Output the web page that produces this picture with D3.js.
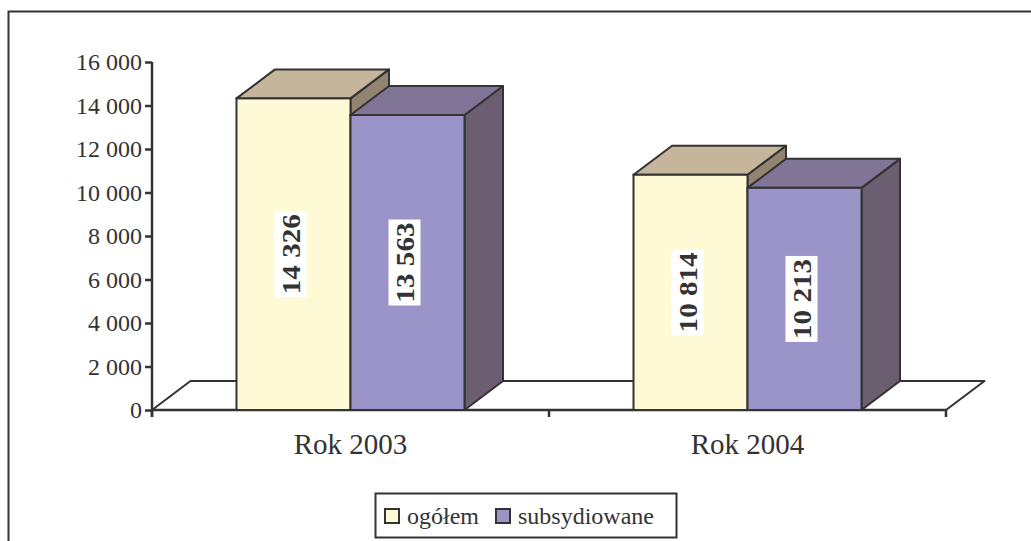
<!DOCTYPE html>
<html>
<head>
<meta charset="utf-8">
<script src="https://cdn.jsdelivr.net/npm/d3@7"></script>
<style>
  body { margin: 0; background: #fff; }
  svg text { font-family: "Liberation Serif", Tinos, "Times New Roman", Times, "DejaVu Serif", serif; fill: #333; }
</style>
</head>
<body>
<div class="chart"></div>
<script>
// data
let categories = ['Rok 2003', 'Rok 2004']
let seriesNames = ['ogółem', 'subsydiowane']
let ogolem = [14326, 10814]
let subsydiowane = [13563, 10213]
let valueLabels = [['14 326', '13 563'], ['10 814', '10 213']]
let yTicks = [0, 2000, 4000, 6000, 8000, 10000, 12000, 14000, 16000]
let yTickLabels = ['0', '2 000', '4 000', '6 000', '8 000', '10 000', '12 000', '14 000', '16 000']

let W = 1031, H = 541
let margin = {top: 62, left: 152}
let plotW = 794, plotH = 348
let dx = 38.5, dy = -29
let serif = '"Liberation Serif", Tinos, "Times New Roman", Times, "DejaVu Serif", serif'

let front = ['#FFFAD6', '#9B94C8']
let top_ = ['#C4B59B', '#807497']
let side = ['#928471', '#6B5E70']
let stroke = '#333'

let svg = d3.select('.chart').append('svg')
    .attr('width', W)
    .attr('height', H)
    .attr('font-family', serif)

// outer frame
svg.append('rect')
    .attr('x', 8.5).attr('y', 11.5)
    .attr('width', W + 20).attr('height', H + 20)
    .attr('fill', 'none').attr('stroke', stroke).attr('stroke-width', 2)

let chart = svg.append('g')
    .attr('transform', 'translate(' + margin.left + ',' + margin.top + ')')

let y = d3.scaleLinear().domain([0, 16000]).range([plotH, 0])
let x = d3.scaleBand().domain(categories).range([0, plotW])
let xs = d3.scaleBand().domain(seriesNames).range([0, 228])
let groupOffset = (x.bandwidth() - 228) / 2

// floor
chart.append('path')
    .attr('d', 'M0,' + plotH + 'L' + dx + ',' + (plotH + dy) + 'L' + (plotW + dx) + ',' + (plotH + dy) + 'L' + plotW + ',' + plotH + 'Z')
    .attr('fill', '#fff').attr('stroke', stroke).attr('stroke-width', 2).attr('stroke-linejoin', 'round')

// y axis
let yAxis = d3.axisLeft(y).tickValues(yTicks).tickFormat((d, i) => yTickLabels[i]).tickSize(7).tickPadding(3)
let ya = chart.append('g').call(yAxis).attr('font-family', serif)
ya.select('.domain').attr('stroke', stroke).attr('stroke-width', 2.5).attr('d', 'M0,0V' + (plotH + 7))
ya.selectAll('.tick line').attr('stroke', stroke).attr('stroke-width', 2.5)
ya.selectAll('.tick text').attr('font-size', 24).attr('fill', '#333').style('font-family', serif)

// x axis
let xTickPos = [0, x.bandwidth(), plotW]
let xa = chart.append('g').attr('transform', 'translate(0,' + plotH + ')')
xa.selectAll('line').data(xTickPos).enter().append('line')
    .attr('x1', d => d).attr('x2', d => d).attr('y1', 0).attr('y2', 7)
    .attr('stroke', stroke).attr('stroke-width', 2.5)
xa.append('line').attr('x1', 0).attr('x2', plotW).attr('stroke', stroke).attr('stroke-width', 2.5)
xa.selectAll('text').data(categories).enter().append('text')
    .attr('x', d => x(d) + x.bandwidth() / 2)
    .attr('y', 44)
    .attr('text-anchor', 'middle')
    .attr('font-size', 29)
    .style('font-family', serif)
    .text(d => d)

// bars
let seriesData = [ogolem, subsydiowane]
let bars = []
categories.forEach((c, ci) => {
    seriesNames.forEach((s, si) => {
        bars.push({cat: c, ci: ci, si: si, value: seriesData[si][ci], label: valueLabels[ci][si]})
    })
})

let bar = chart.selectAll('g.bar').data(bars).enter().append('g').attr('class', 'bar')
bar.each(function (d) {
    let g = d3.select(this)
    let x0 = x(d.cat) + groupOffset + xs(seriesNames[d.si])
    let x1 = x0 + xs.bandwidth()
    let y0 = y(d.value), yb = y(0)
    // side
    g.append('path')
        .attr('d', 'M' + x1 + ',' + yb + 'L' + (x1 + dx) + ',' + (yb + dy) + 'L' + (x1 + dx) + ',' + (y0 + dy) + 'L' + x1 + ',' + y0 + 'Z')
        .attr('fill', side[d.si]).attr('stroke', stroke).attr('stroke-width', 2).attr('stroke-linejoin', 'round')
    // top
    g.append('path')
        .attr('d', 'M' + x0 + ',' + y0 + 'L' + (x0 + dx) + ',' + (y0 + dy) + 'L' + (x1 + dx) + ',' + (y0 + dy) + 'L' + x1 + ',' + y0 + 'Z')
        .attr('fill', top_[d.si]).attr('stroke', stroke).attr('stroke-width', 2).attr('stroke-linejoin', 'round')
    // front
    g.append('rect')
        .attr('x', x0).attr('y', y0)
        .attr('width', x1 - x0).attr('height', yb - y0)
        .attr('fill', front[d.si]).attr('stroke', stroke).attr('stroke-width', 2)
})

// value labels
bar.each(function (d) {
    let g = d3.select(this)
    let cx = x(d.cat) + groupOffset + xs(seriesNames[d.si]) + xs.bandwidth() / 2 - 3
    let cy = (y(d.value) + y(0)) / 2
    let lg = g.append('g').attr('transform', 'translate(' + cx + ',' + cy + ') rotate(-90)')
    lg.append('rect')
        .attr('x', -43).attr('y', -16).attr('width', 86).attr('height', 32)
        .attr('fill', '#fff')
    lg.append('text')
        .attr('text-anchor', 'middle')
        .attr('dy', '0.35em')
        .attr('font-size', 26)
        .attr('font-weight', 'bold')
        .attr('textLength', 80)
        .attr('lengthAdjust', 'spacingAndGlyphs')
        .style('font-family', serif)
        .text(d.label)
})

// legend
let legend = svg.append('g').attr('transform', 'translate(375,493)')
legend.append('rect').attr('x', 0.5).attr('y', 0.5).attr('width', 301).attr('height', 44)
    .attr('fill', '#fff').attr('stroke', stroke).attr('stroke-width', 2)
let legendX = [10, 121]
seriesNames.forEach((s, i) => {
    legend.append('rect')
        .attr('x', legendX[i]).attr('y', 16).attr('width', 14).attr('height', 14)
        .attr('fill', front[i]).attr('stroke', stroke).attr('stroke-width', 2)
    legend.append('text')
        .attr('x', legendX[i] + 22).attr('y', 31)
        .attr('font-size', 24)
        .style('font-family', serif)
        .text(s)
})
</script>
</body>
</html>
